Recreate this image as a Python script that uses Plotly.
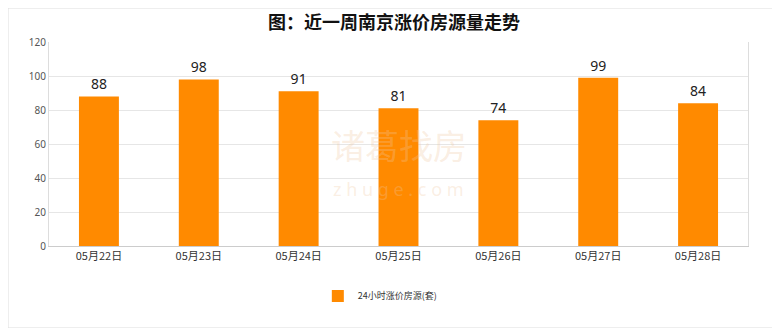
import plotly.graph_objects as go

categories = ["05月22日", "05月23日", "05月24日", "05月25日", "05月26日", "05月27日", "05月28日"]
values = [88, 98, 91, 81, 74, 99, 84]
series_name = "24小时涨价房源(套)"
title = "图：近一周南京涨价房源量走势"

fig = go.Figure()
fig.add_trace(go.Bar(
    x=categories, y=values, name=series_name,
    marker=dict(color="#FF8A00", line=dict(width=0)),
    width=0.4,
    text=values, textposition="outside",
    textfont=dict(size=14, color="#222", family="Noto Sans, DejaVu Sans"),
    cliponaxis=False,
    showlegend=True,
))

fig.update_layout(
    width=772, height=320,
    margin=dict(l=41, r=32, t=34, b=82),
    paper_bgcolor="white", plot_bgcolor="white",
    title=dict(text="<b>" + title + "</b>", x=0.5, xanchor="center", y=0.954, yanchor="middle",
               font=dict(size=18, color="#111", family="Noto Sans CJK SC")),
    xaxis=dict(showgrid=False, showline=True, linecolor="#ccc", linewidth=1,
               tickfont=dict(size=11, color="#333", family="Noto Sans CJK SC"),
               ticks="", mirror=False),
    yaxis=dict(range=[0, 120], dtick=20, showgrid=True, gridcolor="#e6e6e6",
               showline=True, linecolor="#ddd", mirror=True, zeroline=False,
               tickfont=dict(size=10, color="#555", family="Noto Sans, DejaVu Sans"),
               ticks=""),
    legend=dict(orientation="h", x=0.474, xanchor="center", y=-0.245, yanchor="middle",
                font=dict(size=9, color="#333", family="Noto Sans CJK SC"), itemwidth=30),
    bargap=0.6,
    font=dict(family="Noto Sans CJK SC"),
)
fig.add_annotation(text="诸葛找房", x=0.5, y=0.37, xref="paper", yref="paper", yanchor="bottom",
                   showarrow=False, font=dict(size=34, color="rgba(240,200,160,0.3)", family="Noto Sans CJK SC"))
fig.add_annotation(text="z h u g e . c o m", x=0.5, y=0.35, xref="paper", yref="paper", yanchor="top",
                   showarrow=False, font=dict(size=18, color="rgba(240,200,160,0.3)", family="Noto Sans"))
fig.add_shape(type="rect", xref="paper", yref="paper", x0=-41/699, x1=1+32/699, y0=-82/204, y1=1+34/204,
              line=dict(color="#ddd", width=1))
fig.write_html("out.html")
